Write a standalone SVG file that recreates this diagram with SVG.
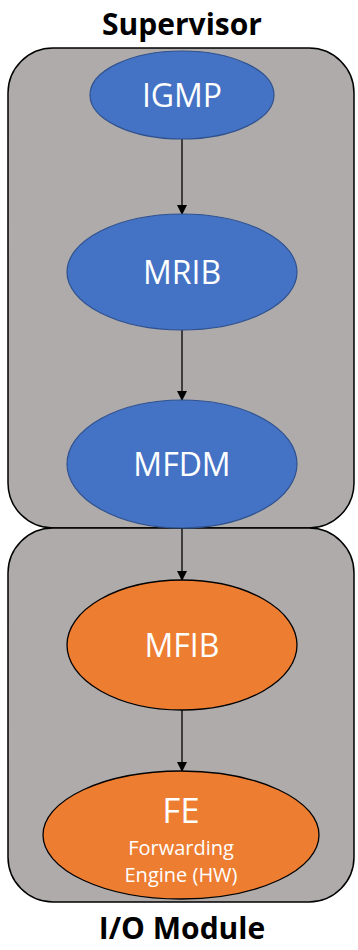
<svg xmlns="http://www.w3.org/2000/svg" width="358" height="950" viewBox="0 0 358 950">
<style>
.box{fill:#AFABAB;stroke:#000;stroke-width:1.5}
.blue{fill:#4472C4;stroke:#2F528F;stroke-width:1.2}
.orange{fill:#ED7D31;stroke:#000;stroke-width:1.3}
.lbl{font-family:"Open Sans","Noto Sans",sans-serif;fill:#fff;text-anchor:middle}
.title{font-family:"Open Sans","Noto Sans",sans-serif;font-weight:bold;fill:#000;text-anchor:middle;font-size:30px}
.conn{stroke:#000;stroke-width:1.3;fill:none;marker-end:url(#arr)}
</style>
<defs>
<marker id="arr" markerWidth="10" markerHeight="10" refX="9" refY="5" orient="auto" markerUnits="userSpaceOnUse">
<path d="M0,0 L10,5 L0,10 z" fill="#000"/>
</marker>
</defs>
<g id="supervisor">
<rect class="box" x="8" y="48" width="346" height="480" rx="45"/>
<text class="title" x="182" y="35">Supervisor</text>
</g>
<g id="iomodule">
<rect class="box" x="8" y="528" width="346" height="374" rx="45"/>
<text class="title" x="182" y="939">I/O Module</text>
</g>
<g id="connectors">
<line class="conn" x1="182" y1="139" x2="182" y2="214"/>
<line class="conn" x1="182" y1="330" x2="182" y2="400"/>
<line class="conn" x1="182" y1="528" x2="182" y2="580"/>
<line class="conn" x1="182" y1="710" x2="182" y2="771"/>
</g>
<g id="igmp">
<ellipse class="blue" cx="182" cy="95" rx="92" ry="44"/>
<text class="lbl" x="182" y="107" font-size="32">IGMP</text>
</g>
<g id="mrib">
<ellipse class="blue" cx="182" cy="272" rx="115" ry="58"/>
<text class="lbl" x="182" y="284" font-size="32">MRIB</text>
</g>
<g id="mfdm">
<ellipse class="blue" cx="182" cy="464" rx="115" ry="64"/>
<text class="lbl" x="182" y="476" font-size="32">MFDM</text>
</g>
<g id="mfib">
<ellipse class="orange" cx="182" cy="645" rx="115" ry="65"/>
<text class="lbl" x="182" y="657" font-size="32">MFIB</text>
</g>
<g id="fe">
<ellipse class="orange" cx="181" cy="835" rx="138" ry="64"/>
<text class="lbl" x="181" y="823" font-size="35">FE</text>
<text class="lbl" x="181" y="855" font-size="20">Forwarding</text>
<text class="lbl" x="181" y="882" font-size="20">Engine (HW)</text>
</g>
</svg>
